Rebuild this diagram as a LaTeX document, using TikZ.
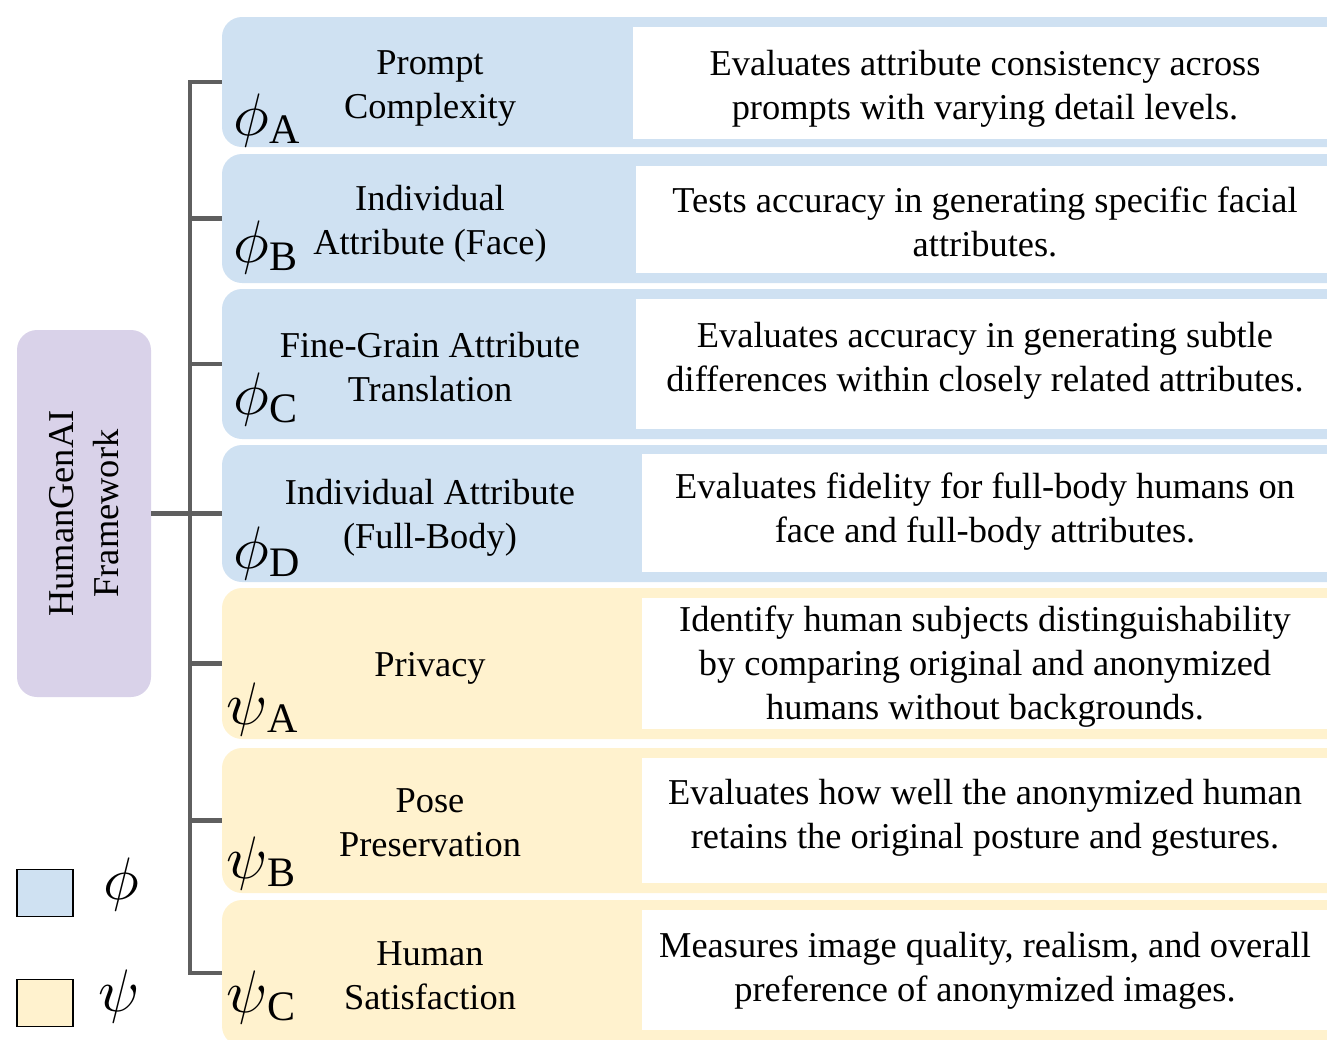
\documentclass[tikz,border=0pt]{standalone}
\usepackage{graphicx}
\usepackage{fontspec}
\setmainfont{Liberation Serif}
\usetikzlibrary{fit}
\definecolor{rowblue}{RGB}{207,225,242}
\definecolor{rowyellow}{RGB}{255,242,206}
\definecolor{rootpurple}{RGB}{217,210,233}
\definecolor{treegray}{RGB}{95,95,95}
\newcommand\mysym[2]{\scalebox{4.5}{$#1$}\raisebox{-6pt}{\fontsize{31.5}{31.5}\selectfont #2}}
\begin{document}
\begin{tikzpicture}[x=0.75pt,y=-0.75pt,
  rowbox/.style={inner sep=0pt, rounded corners=15pt},
  descbox/.style={inner sep=0pt, fill=white},
  lbl/.style={font=\fontsize{27.3}{33}\selectfont, align=center, inner sep=0pt, text=black},
  tree/.style={draw=treegray, line width=3.2pt},
  sym/.style={anchor=base west, inner sep=0pt},
  legbox/.style={draw=black, line width=1.1pt, minimum width=42pt, minimum height=35pt, inner sep=0pt}]
\useasboundingbox (0,0) rectangle (1327,1039);
\clip (0,0) rectangle (1327,1039);

% rows
\node[rowbox, fill=rowblue, fit={(222,17) (1360,147)}] (r1) {};
\node[rowbox, fill=rowblue, fit={(222,154) (1360,283)}] (r2) {};
\node[rowbox, fill=rowblue, fit={(222,289) (1360,439)}] (r3) {};
\node[rowbox, fill=rowblue, fit={(222,445) (1360,582)}] (r4) {};
\node[rowbox, fill=rowyellow, fit={(222,588) (1360,739)}] (r5) {};
\node[rowbox, fill=rowyellow, fit={(222,748) (1360,893)}] (r6) {};
\node[rowbox, fill=rowyellow, fit={(222,900) (1360,1046)}] (r7) {};

% white description boxes
\node[descbox, fit={(633,27) (1327,139)}] (d1) {};
\node[descbox, fit={(636,166) (1327,273)}] (d2) {};
\node[descbox, fit={(636,299) (1327,429)}] (d3) {};
\node[descbox, fit={(642,454) (1327,572)}] (d4) {};
\node[descbox, fit={(642,598) (1327,729)}] (d5) {};
\node[descbox, fit={(642,758) (1327,883)}] (d6) {};
\node[descbox, fit={(642,910) (1327,1030)}] (d7) {};

% root
\node[rowbox, fill=rootpurple, fit={(17,330) (151,697)}] (root) {};
\node[lbl, rotate=90, font=\fontsize{27.3}{34}\selectfont] (roottext) at (root.center) {HumanGenAI\\Framework};

% tree
\coordinate (J) at (190,513);
\draw[tree] (root.east) -- (root.east -| J);
\draw[tree, line cap=rect] (r1.west -| J) -- (r7.west -| J);
\foreach \i in {1,...,7}{\draw[tree] (r\i.west -| J) -- (r\i.west);}

% labels
\node[lbl] (l1) at (430,89) {Prompt\\Complexity};
\node[lbl] (l2) at (430,224) {Individual\\Attribute (Face)};
\node[lbl] (l3) at (430,367) {Fine-Grain Attribute\\Translation};
\node[lbl] (l4) at (430,518) {Individual Attribute\\(Full-Body)};
\node[lbl] (l5) at (430,668) {Privacy};
\node[lbl] (l6) at (430,823) {Pose\\Preservation};
\node[lbl] (l7) at (430,976) {Human\\Satisfaction};

% descriptions
\node[lbl] (t1) at (985,89) {Evaluates attribute consistency across\\prompts with varying detail levels.};
\node[lbl] (t2) at (985,222) {Tests accuracy in generating specific facial\\attributes.};
\node[lbl] (t3) at (985,361) {Evaluates accuracy in generating subtle\\differences within closely related attributes.};
\node[lbl] (t4) at (985,512) {Evaluates fidelity for full-body humans on\\face and full-body attributes.};
\node[lbl] (t5) at (985,667) {Identify human subjects distinguishability\\by comparing original and anonymized\\humans without backgrounds.};
\node[lbl] (t6) at (985,818) {Evaluates how well the anonymized human\\retains the original posture and gestures.};
\node[lbl] (t7) at (985,971) {Measures image quality, realism, and overall\\preference of anonymized images.};

% symbols
\node[sym] (s1) at (233,135) {\mysym{\phi}{A}};
\node[sym] (s2) at (233,262) {\mysym{\phi}{B}};
\node[sym] (s3) at (233,414) {\mysym{\phi}{C}};
\node[sym] (s4) at (233,568) {\mysym{\phi}{D}};
\node[sym] (s5) at (226,724) {\mysym{\psi}{A}};
\node[sym] (s6) at (226,878) {\mysym{\psi}{B}};
\node[sym] (s7) at (226,1012) {\mysym{\psi}{C}};

% legend
\node[legbox, fill=rowblue] (lg1) at (45,893) {};
\node[legbox, fill=rowyellow] (lg2) at (45,1003) {};
\node[inner sep=0pt] (lp1) at (121,884) {\scalebox{4.5}{$\phi$}};
\node[inner sep=0pt] (lp2) at (119,996) {\scalebox{4.5}{$\psi$}};
\end{tikzpicture}
\end{document}
